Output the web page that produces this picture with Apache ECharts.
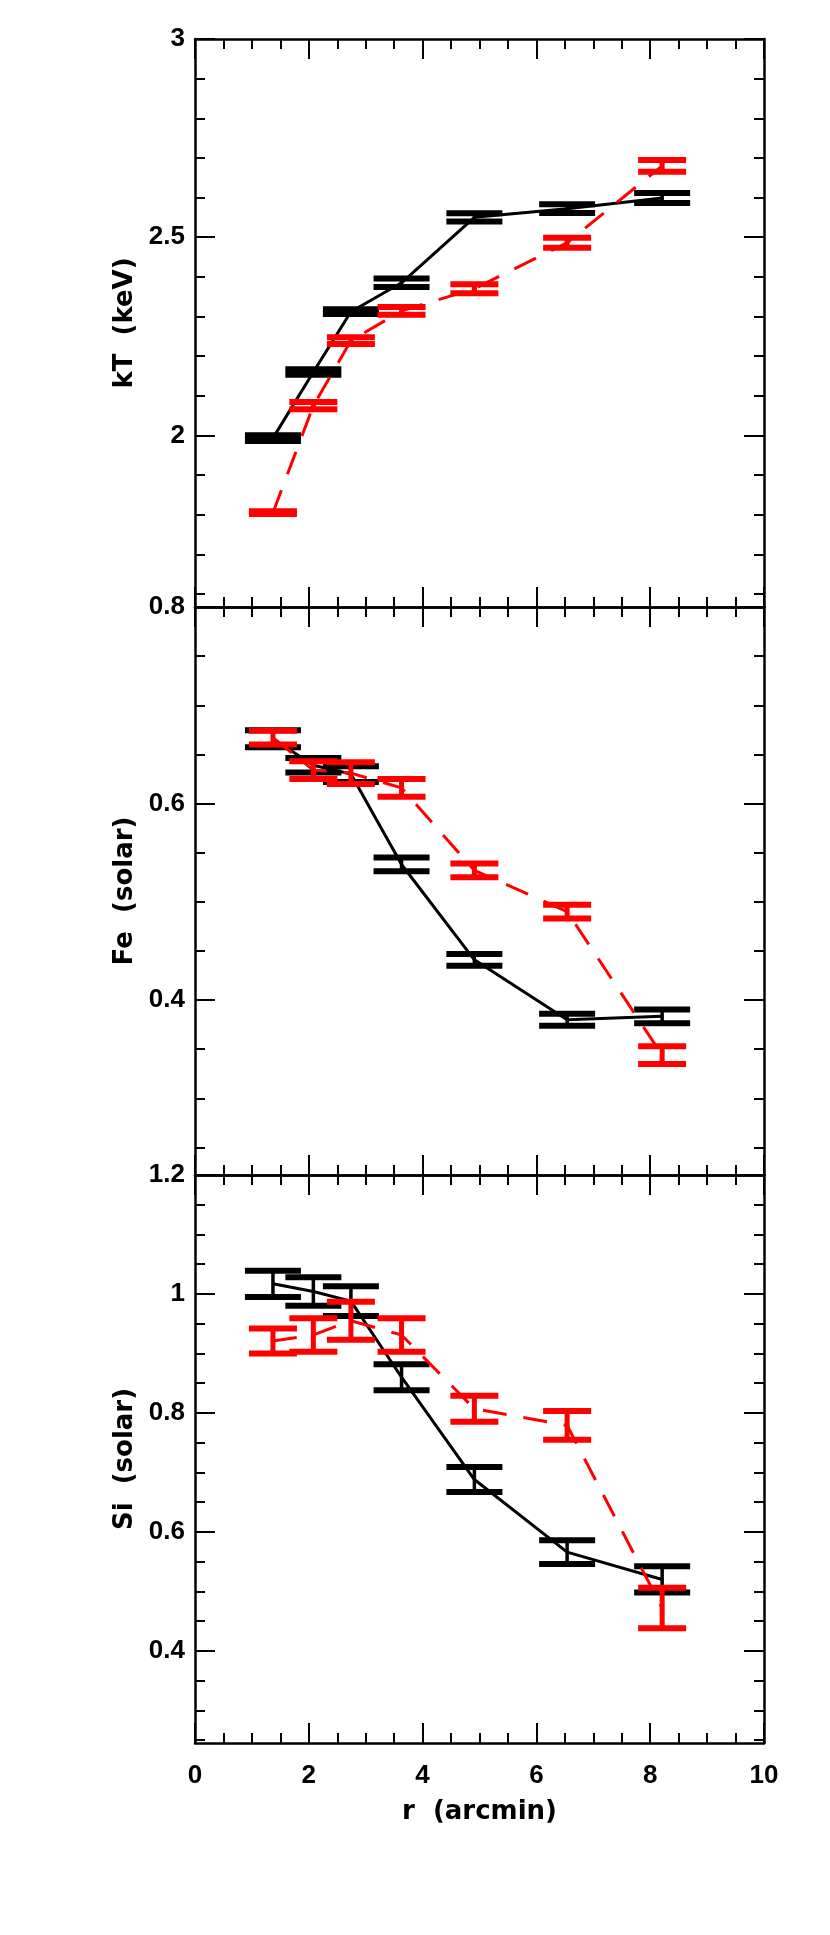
<!DOCTYPE html>
<html>
<head>
<meta charset="utf-8">
<script src="https://cdn.jsdelivr.net/npm/echarts@6/dist/echarts.min.js"></script>
<style>html,body{margin:0;padding:0;background:#fff;}#c{width:830px;height:1935px;}</style>
</head>
<body>
<div id="c"></div>
<script>
// ---- data ----
const rValues = [1.37, 2.08, 2.74, 3.63, 4.91, 6.54, 8.21];

const ktBlack    = [1.993, 2.160, 2.312, 2.385, 2.550, 2.572, 2.599];
const ktBlackErr = [0.007, 0.007, 0.006, 0.0105, 0.0105, 0.011, 0.0125];
const ktRed      = [1.805, 2.075, 2.239, 2.314, 2.370, 2.486, 2.680];
const ktRedErr   = [0.0035, 0.009, 0.0086, 0.0096, 0.0115, 0.0125, 0.015];

const feBlack    = [0.666, 0.639, 0.630, 0.538, 0.441, 0.380, 0.3835];
const feBlackErr = [0.0086, 0.0074, 0.008, 0.007, 0.006, 0.006, 0.007];
const feRed      = [0.667, 0.634, 0.631, 0.616, 0.532, 0.490, 0.344];
const feRedErr   = [0.007, 0.009, 0.011, 0.009, 0.007, 0.007, 0.009];

const siBlack    = [1.017, 1.004, 0.988, 0.860, 0.688, 0.566, 0.520];
const siBlackErr = [0.022, 0.024, 0.025, 0.022, 0.021, 0.020, 0.022];
const siRed      = [0.921, 0.931, 0.955, 0.931, 0.807, 0.779, 0.472];
const siRedErr   = [0.021, 0.028, 0.032, 0.028, 0.022, 0.024, 0.034];

// ---- axis ticks / labels ----
const xLabelsMajor = [0, 2, 4, 6, 8, 10];
const ktRange = [1.567, 3.0];
const ktMajor = [2, 2.5, 3];
const ktMinor = [1.6, 1.7, 1.8, 1.9, 2.0, 2.1, 2.2, 2.3, 2.4, 2.5, 2.6, 2.7, 2.8, 2.9, 3.0];
const feRange = [0.222, 0.8];
const feMajor = [0.4, 0.6, 0.8];
const feMinor = [0.25, 0.3, 0.35, 0.4, 0.45, 0.5, 0.55, 0.6, 0.65, 0.7, 0.75, 0.8];
const siRange = [0.245, 1.2];
const siMajor = [0.4, 0.6, 0.8, 1, 1.2];
const siMinor = [0.25, 0.3, 0.35, 0.4, 0.45, 0.5, 0.55, 0.6, 0.65, 0.7, 0.75, 0.8, 0.85, 0.9, 0.95, 1.0, 1.05, 1.1, 1.15, 1.2];

const panelTitles = ['kT  (keV)', 'Fe  (solar)', 'Si  (solar)'];
const xTitle = 'r  (arcmin)';

// ---- layout ----
const TITLE_FONT = '"DejaVu Sans", sans-serif';
const LABEL_FONT = '"Liberation Sans", Arial, sans-serif';
const LFS = 26, TFS = 26;
const LEFT = 195, WIDTH = 569, TOPS = [39, 607, 1175], HEIGHT = 568;
const MAJ = 20, MIN = 10, TW = 2;

const panels = [
  {range: ktRange, major: ktMajor, minor: ktMinor, title: panelTitles[0],
   black: ktBlack, blackErr: ktBlackErr, red: ktRed, redErr: ktRedErr},
  {range: feRange, major: feMajor, minor: feMinor, title: panelTitles[1],
   black: feBlack, blackErr: feBlackErr, red: feRed, redErr: feRedErr},
  {range: siRange, major: siMajor, minor: siMinor, title: panelTitles[2],
   black: siBlack, blackErr: siBlackErr, red: siRed, redErr: siRedErr}
];

const grid = [], xAxis = [], yAxis = [], series = [];
const lineStyleAxis = {show: true, lineStyle: {color: '#000', width: 2.5}};
const labelStyle = {color: '#000', fontFamily: LABEL_FONT, fontSize: LFS, fontWeight: 'bold'};
const titleStyle = {color: '#000', fontFamily: TITLE_FONT, fontSize: TFS, fontWeight: 'bold'};

function errRender(capW, stemW, capLW, color) {
  return function (params, api) {
    const x = api.value(0), y = api.value(1), e = api.value(2);
    const top = api.coord([x, y + e]);
    const bot = api.coord([x, y - e]);
    const cx = top[0];
    return {
      type: 'group',
      children: [
        {type: 'line', shape: {x1: cx, y1: top[1], x2: cx, y2: bot[1]}, style: {stroke: color, lineWidth: stemW}},
        {type: 'line', shape: {x1: cx - capW / 2, y1: top[1], x2: cx + capW / 2, y2: top[1]}, style: {stroke: color, lineWidth: capLW}},
        {type: 'line', shape: {x1: cx - capW / 2, y1: bot[1], x2: cx + capW / 2, y2: bot[1]}, style: {stroke: color, lineWidth: capLW}}
      ]
    };
  };
}

panels.forEach((p, i) => {
  grid.push({left: LEFT, top: TOPS[i], width: WIDTH, height: HEIGHT, containLabel: false});
  const isBottom = i === panels.length - 1;
  const xi = xAxis.length;
  // bottom x axis
  xAxis.push({
    type: 'value', gridIndex: i, position: 'bottom', min: 0, max: 10, interval: 2,
    axisLine: lineStyleAxis,
    axisTick: {show: true, inside: true, length: MAJ, lineStyle: {color: '#000', width: TW}},
    minorTick: {show: true, splitNumber: 4, length: MIN, lineStyle: {color: '#000', width: TW}},
    splitLine: {show: false}, minorSplitLine: {show: false},
    axisLabel: Object.assign({show: isBottom, margin: 20, customValues: xLabelsMajor}, labelStyle),
    name: isBottom ? xTitle : '', nameLocation: 'middle', nameGap: 56,
    nameTextStyle: titleStyle
  });
  // top x axis
  xAxis.push({
    type: 'value', gridIndex: i, position: 'top', min: 0, max: 10, interval: 2,
    axisLine: lineStyleAxis,
    axisTick: {show: true, inside: true, length: MAJ, lineStyle: {color: '#000', width: TW}},
    minorTick: {show: true, splitNumber: 4, length: MIN, lineStyle: {color: '#000', width: TW}},
    splitLine: {show: false}, minorSplitLine: {show: false},
    axisLabel: {show: false}
  });
  const yi = yAxis.length;
  // left major
  yAxis.push({
    type: 'value', gridIndex: i, position: 'left', min: p.range[0], max: p.range[1],
    axisLine: lineStyleAxis,
    axisTick: {show: true, inside: true, length: MAJ, customValues: p.major, lineStyle: {color: '#000', width: TW}},
    splitLine: {show: false},
    axisLabel: Object.assign({show: true, margin: 10, customValues: p.major, showMinLabel: true, showMaxLabel: true}, labelStyle),
    name: p.title, nameLocation: 'middle', nameRotate: 90, nameGap: 42,
    nameTextStyle: titleStyle
  });
  // left minor
  yAxis.push({
    type: 'value', gridIndex: i, position: 'left', min: p.range[0], max: p.range[1],
    axisLine: {show: false},
    axisTick: {show: true, inside: true, length: MIN, customValues: p.minor, lineStyle: {color: '#000', width: TW}},
    splitLine: {show: false}, axisLabel: {show: false}
  });
  // right major
  yAxis.push({
    type: 'value', gridIndex: i, position: 'right', min: p.range[0], max: p.range[1],
    axisLine: lineStyleAxis,
    axisTick: {show: true, inside: true, length: MAJ, customValues: p.major, lineStyle: {color: '#000', width: TW}},
    splitLine: {show: false}, axisLabel: {show: false}
  });
  // right minor
  yAxis.push({
    type: 'value', gridIndex: i, position: 'right', min: p.range[0], max: p.range[1],
    axisLine: {show: false},
    axisTick: {show: true, inside: true, length: MIN, customValues: p.minor, lineStyle: {color: '#000', width: TW}},
    splitLine: {show: false}, axisLabel: {show: false}
  });

  const blackData = rValues.map((r, k) => [r, p.black[k], p.blackErr[k]]);
  const redData = rValues.map((r, k) => [r, p.red[k], p.redErr[k]]);

  series.push({
    type: 'line', xAxisIndex: xi, yAxisIndex: yi, data: blackData.map(d => [d[0], d[1]]),
    symbol: 'none', lineStyle: {color: '#000', width: 3}, z: 2, silent: true
  });
  series.push({
    type: 'custom', xAxisIndex: xi, yAxisIndex: yi, data: blackData,
    encode: {x: 0, y: 1}, renderItem: errRender(56, 3.5, 6, '#000'), z: 3, silent: true
  });
  series.push({
    type: 'line', xAxisIndex: xi, yAxisIndex: yi, data: redData.map(d => [d[0], d[1]]),
    symbol: 'none', lineStyle: {color: '#ff0000', width: 3, type: [24, 17]}, z: 4, silent: true
  });
  series.push({
    type: 'custom', xAxisIndex: xi, yAxisIndex: yi, data: redData,
    encode: {x: 0, y: 1}, renderItem: errRender(48, 5, 6, '#ff0000'), z: 5, silent: true
  });
});

const chart = echarts.init(document.getElementById('c'), null, {renderer: 'canvas'});
chart.setOption({
  animation: false,
  backgroundColor: '#fff',
  grid: grid,
  xAxis: xAxis,
  yAxis: yAxis,
  series: series
});
</script>
</body>
</html>
